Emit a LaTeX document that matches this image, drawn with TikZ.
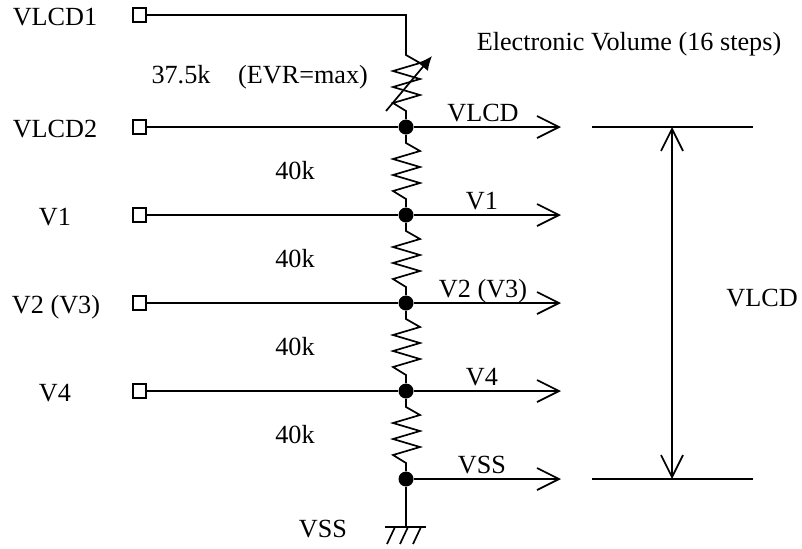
\documentclass[tikz,border=0pt]{standalone}
\usepackage{fontspec}
\setmainfont{Liberation Serif}
\usetikzlibrary{arrows.meta}
\usetikzlibrary{calc,positioning}

\tikzset{
    wire/.style={line width=0.85pt},
    term/.style={draw, line width=0.85pt, minimum size=6.8pt, inner sep=0pt},
    dot/.style={circle, fill, minimum size=7.5pt, inner sep=0pt},
    lab/.style={anchor=base, inner sep=0pt, font=\fontsize{13.1}{15}\selectfont},
    open/.style={-{Straight Barb[length=11pt,width=11pt]}},
    span/.style={{Straight Barb[length=11pt,width=11pt]}-{Straight Barb[length=11pt,width=11pt]}},
    zig/.style={insert path={-- ++(14,8) -- ++(-27,8) -- ++(27,8) -- ++(-27,8) -- ++(27,8) -- ++(-27,8) -- ++(13,8)}}
}

\begin{document}
\begin{tikzpicture}[x=0.5pt, y=-0.5pt]

    \useasboundingbox (0,0) rectangle (802,548);

    % rows: pad, junction, arrow end
    \foreach \name/\y/\xl/\pin/\xr/\out in {vlcd/127/55/VLCD2/483/VLCD, vone/215/55/V1/482/V1, vtwo/303/56/V2 (V3)/483/V2 (V3), vfour/391/55/V4/482/V4} {
        \node[lab] (l\name) at (\xl,\y+10) {\pin};
        \node[term] (t\name) at (139.5,\y) {};
        \node[dot] (\name) at (406,\y) {};
        \coordinate (e\name) at (561,\y);
        \node[lab] (o\name) at (\xr,\y-6) {\out};
        \draw[wire] (t\name) -- (\name);
        \draw[wire, open] (\name) -- (e\name);
    }

    \node[dot] (vss) at (406,479) {};
    \coordinate (evss) at (561,479);
    \node[lab] (ovss) at (482,473) {VSS};
    \draw[wire, open] (vss) -- (evss);

    % variable part on top
    \node[lab] (ltop) at (55,25) {VLCD1};
    \node[term] (ttop) at (139.5,15) {};
    \coordinate (corner) at (406,15);
    \draw[wire] (ttop) -- (corner) -- ++(0,40) [zig] -- (vlcd);
    \coordinate (a1) at (386,111);
    \coordinate (a2) at (432,56);
    \draw[wire, -{Latex[length=7pt,width=6.5pt]}] (a1) -- (a2);
    \node[lab] (rtop) at (181,83) {37.5k};
    \node[lab] (evr) at (303,83) {(EVR=max)};
    \node[lab] (vol) at (629,50) {Electronic Volume (16 steps)};

    % divider
    \draw[wire] (vlcd) -- ++(0,16) [zig] -- (vone);
    \draw[wire] (vone) -- ++(0,16) [zig] -- (vtwo);
    \draw[wire] (vtwo) -- ++(0,16) [zig] -- (vfour);
    \draw[wire] (vfour) -- ++(0,16) [zig] -- (vss);
    \foreach \y in {179,267,355,443}
        \node[lab] at (295,\y) {40k};

    % ground
    \coordinate (g1) at (385,527);
    \coordinate (g2) at (426,527);
    \draw[wire] (vss) -- (406,527);
    \draw[wire] (g1) -- (g2);
    \foreach \x in {395,408,421}
        \draw[wire] (\x,527) -- ++(-8,17);
    \node[lab] (lvss) at (323,537) {VSS};

    % span
    \coordinate (s1) at (592,127);
    \coordinate (s2) at (753,127);
    \coordinate (s3) at (592,479);
    \coordinate (s4) at (753,479);
    \coordinate (m1) at (672,127);
    \coordinate (m2) at (672,479);
    \draw[wire] (s1) -- (s2);
    \draw[wire] (s3) -- (s4);
    \draw[wire, span] (m1) -- (m2);
    \node[lab] (vspan) at (762,306) {VLCD};

\end{tikzpicture}
\end{document}
